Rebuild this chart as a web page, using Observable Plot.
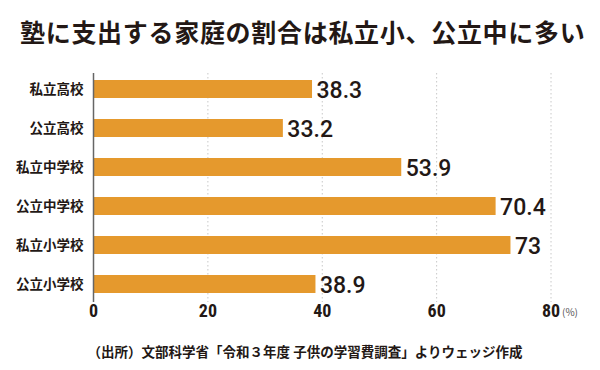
<!DOCTYPE html>
<html><head><meta charset="utf-8">
<script src="https://cdn.jsdelivr.net/npm/d3@7"></script>
<script src="https://cdn.jsdelivr.net/npm/@observablehq/plot@0.6"></script>
<style>
body{margin:0;background:#fff;font-family:"Noto Sans CJK JP",sans-serif;color:#231815;width:600px;height:370px;overflow:hidden}
#title{height:60px;box-sizing:border-box;padding:17px 0 0 20px;font-size:25px;font-weight:700;line-height:28px;letter-spacing:0.7px;white-space:nowrap}
#cap{position:absolute;top:341px;left:0;width:600px;text-align:center;font-size:13.5px;font-weight:700;line-height:20px;padding-left:10px;box-sizing:border-box}
#chart{position:absolute;top:60px;left:0}
</style></head>
<body>
<div id="title">塾に支出する家庭の割合は私立小、公立中に多い</div>
<div id="chart"></div>
<div id="cap">（出所）文部科学省「令和３年度 子供の学習費調査」よりウェッジ作成</div>
<script>
const categories = ["私立高校","公立高校","私立中学校","公立中学校","私立小学校","公立小学校"];
const values = [38.3, 33.2, 53.9, 70.4, 73, 38.9];
const xTicks = [0, 20, 40, 60, 80];
const labels = ["38.3","33.2","53.9","70.4","73","38.9"];
const unit = "(%)";

const data = categories.map((c,i)=>({cat:c, v:values[i], label:labels[i]}));

const chart = Plot.plot({
  width: 600, height: 270,
  marginLeft: 93, marginRight: 49.5, marginTop: 13, marginBottom: 28,
  style:{fontFamily:"Roboto, sans-serif", background:"transparent", overflow:"visible"},
  x:{domain:[0,80], axis:null},
  y:{domain:categories, range:[19,233], paddingInner:0.54, paddingOuter:0, axis:null},
  marks:[
    Plot.ruleX(xTicks.filter(d=>d>0), {stroke:"#c8c8c8", strokeDasharray:"1.5,2.5", strokeWidth:1}),
    Plot.barX(data, {x:"v", y:"cat", fill:"#e5992d"}),
    Plot.ruleX([0], {stroke:"#666", strokeWidth:1.5}),
    Plot.text(data, {x:"v", y:"cat", text:"label", textAnchor:"start", dx:4, dy:1, fontSize:23, fontWeight:500, fill:"#231815", fontFamily:"Roboto, sans-serif"}),
    Plot.text(data, {x:0, y:"cat", text:"cat", textAnchor:"end", dx:-10, fontSize:13.5, fontWeight:700, fill:"#231815", fontFamily:"Noto Sans CJK JP, sans-serif"}),
    Plot.text(xTicks, {x:d=>d, text:d=>String(d), frameAnchor:"bottom", lineAnchor:"middle", dy:9, fontSize:18, fontWeight:700, fill:"#231815", fontFamily:"'Liberation Sans Narrow', 'Roboto Condensed', Roboto, sans-serif"}),
    Plot.text([80], {x:d=>d, text:()=>unit, frameAnchor:"bottom", lineAnchor:"middle", textAnchor:"start", dx:11, dy:10, fontSize:10, fill:"#555", fontFamily:"Noto Sans CJK JP, sans-serif"})
  ]
});
document.getElementById("chart").appendChild(chart);
</script>
</body></html>
